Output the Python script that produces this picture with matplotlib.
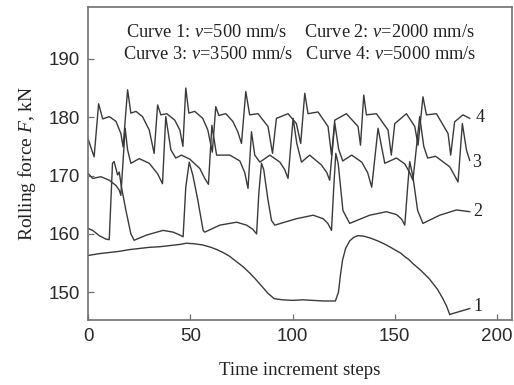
import numpy as np
import matplotlib
matplotlib.use('Agg')
import matplotlib.pyplot as plt

# values (time step, rolling force in kN)
steps_1 = [0, 5, 10, 15, 20, 25, 30, 35, 40, 45, 48, 52, 56, 60, 63, 66, 69, 72, 76, 79, 82, 85, 88, 91,
           95, 100, 105, 110, 115, 121, 122.5, 123.5, 124.5, 126, 128, 130, 132, 135, 138, 141, 143,
           146, 148, 151, 153, 155, 157, 159, 161, 163, 165, 167, 169, 171, 173.5, 175.5, 177]
force_1 = [156.3, 156.6, 156.8, 157.0, 157.3, 157.5, 157.7, 157.8, 158.0, 158.2, 158.4, 158.3, 158.1,
           157.7, 157.3, 156.8, 156.2, 155.4, 154.3, 153.3, 152.2, 151.0, 149.8, 148.9, 148.7, 148.6,
           148.7, 148.6, 148.5, 148.5, 150.0, 153.0, 155.5, 157.5, 158.8, 159.4, 159.7, 159.6, 159.3,
           158.9, 158.6, 158.1, 157.7, 157.1, 156.7, 156.1, 155.6, 154.9, 154.3, 153.7, 153.0, 152.3,
           151.4, 150.5, 149.0, 147.6, 146.2]

steps_2 = [0, 2.1, 5.3, 8.6, 10.2, 11.8, 12.6, 14.3, 15.1, 16.2, 18.4, 20.8, 22.4, 28.5, 36.6, 41.5,
           44.8, 46.4, 47.7, 49.4, 51.2, 53.6, 56.2, 57.0, 64.4, 72.6, 77.5, 80.5, 82.4, 83.5, 84.8,
           85.9, 87.9, 89.7, 91.3, 101.9, 110.1, 115.0, 117.3, 119.1, 120.2, 121.2, 122.4, 124.7,
           128.0, 137.8, 146.0, 151.0, 153.5, 155.0, 156.4, 157.4, 158.9, 161.3, 163.9, 172.1,
           180.3, 186.8]
force_2 = [160.9, 160.6, 159.7, 159.1, 159.0, 172.1, 172.4, 170.1, 170.6, 168.0, 164.0, 160.0, 158.9,
           159.8, 160.6, 160.3, 159.8, 159.5, 168.0, 172.3, 170.0, 165.8, 160.6, 160.3, 161.5, 162.0,
           161.5, 160.8, 160.0, 167.0, 172.1, 171.0, 166.0, 162.3, 161.5, 162.6, 163.2, 162.6, 161.8,
           160.6, 168.0, 173.8, 172.0, 164.0, 161.8, 163.2, 163.8, 163.3, 162.5, 161.5, 168.0, 172.4,
           170.0, 164.0, 161.8, 163.2, 164.1, 163.8]

steps_3 = [0, 2.1, 6.1, 10.2, 13.5, 15.1, 15.9, 18.0, 19.2, 20.8, 24.9, 29.8, 33.9, 36.3, 37.9, 40.4,
           42.8, 45.6, 49.7, 54.6, 57.0, 58.8, 60.5, 62.8, 69.3, 74.2, 76.6, 78.2, 79.9, 81.5, 84.0,
           88.9, 93.8, 96.2, 97.8, 100.3, 102.1, 104.4, 108.4, 114.2, 116.8, 118.2, 120.7, 122.6,
           124.6, 129.0, 133.9, 136.8, 138.8, 141.9, 145.2, 150.9, 155.0, 157.4, 159.0, 162.3, 164.3,
           166.2, 170.1, 177.0, 179.4, 181.1, 183.2, 185.2, 186.8]
force_3 = [170.3, 169.5, 169.8, 169.2, 168.3, 167.5, 166.6, 178.1, 174.4, 172.1, 172.9, 172.1, 170.3,
           168.6, 180.1, 174.4, 173.0, 173.5, 172.8, 171.2, 169.5, 168.5, 178.6, 173.5, 173.5, 172.5,
           170.5, 167.8, 177.5, 173.5, 172.3, 173.5, 172.3, 171.0, 169.5, 179.8, 175.5, 172.3, 173.5,
           171.8, 170.5, 169.2, 179.0, 174.5, 172.5, 173.5, 172.3, 170.5, 168.0, 178.1, 172.1, 173.0,
           172.0, 170.5, 169.2, 180.1, 175.0, 173.0, 173.3, 171.5, 170.0, 168.9, 178.9, 174.4, 172.6]

steps_4 = [0, 2.8, 5.0, 7.0, 10.2, 13.5, 15.9, 17.0, 19.2, 20.8, 23.3, 26.5, 29.8, 32.2, 33.9, 35.5,
           38.4, 42.3, 44.8, 46.3, 47.7, 49.2, 52.1, 56.0, 58.5, 60.7, 62.4, 63.9, 67.3, 70.7, 73.2,
           75.0, 77.1, 79.0, 83.1, 88.0, 90.2, 92.1, 97.8, 101.9, 104.0, 106.0, 107.6, 112.5, 117.4,
           119.1, 120.7, 126.4, 132.1, 133.3, 134.9, 136.2, 141.1, 146.8, 148.4, 150.1, 155.8, 159.9,
           161.5, 163.9, 165.6, 170.5, 176.2, 177.5, 179.4, 183.5, 186.8]
force_4 = [176.1, 173.2, 182.3, 179.7, 180.1, 179.3, 177.2, 174.9, 184.7, 180.7, 181.0, 180.1, 177.8,
           173.8, 182.1, 180.4, 180.6, 179.5, 177.8, 175.0, 185.0, 180.7, 181.0, 179.8, 177.8, 174.0,
           181.8, 180.3, 180.6, 179.3, 177.5, 175.5, 184.4, 180.4, 180.6, 178.4, 173.8, 179.8, 180.6,
           178.9, 175.5, 184.1, 180.6, 180.9, 178.4, 173.5, 179.5, 180.6, 178.4, 175.2, 183.8, 180.4,
           180.6, 177.8, 173.5, 178.9, 180.6, 178.4, 175.2, 183.5, 180.4, 180.6, 177.2, 173.5, 179.2,
           180.4, 179.8]

curve_labels = ['1', '2', '3', '4']
label_x = [190.7, 190.7, 190.2, 191.9]
label_y = [147.5, 163.8, 172.2, 179.9]

legend_line_1 = r'Curve 1: $\it{v}$=500 mm/s    Curve 2: $\it{v}$=2000 mm/s'
legend_line_2 = r'Curve 3: $\it{v}$=3500 mm/s   Curve 4: $\it{v}$=5000 mm/s'

plt.rcParams['mathtext.fontset'] = 'custom'
plt.rcParams['mathtext.it'] = 'Liberation Serif:italic'
plt.rcParams['mathtext.rm'] = 'Liberation Serif'

line_col = '#3a3a3a'
frame_col = '#707070'

fig = plt.figure(figsize=(5.14, 3.85), dpi=100)
ax = fig.add_axes([0.172, 0.169, 0.824, 0.813])

for sx, fy in [(steps_1, force_1), (steps_2, force_2), (steps_3, force_3), (steps_4, force_4)]:
    ax.plot(sx, fy, color=line_col, lw=1.0)

# short leader from the end of curve 1 to its label
ax.plot([177, 186.8], [146.2, 147.2], color=line_col, lw=1.0)

for lab, lx, ly in zip(curve_labels, label_x, label_y):
    ax.text(lx, ly, lab, family='Liberation Serif', fontsize=13, color='#222222',
            ha='center', va='center')

ax.text(103.6, 194.6, legend_line_1, family='Liberation Serif', fontsize=13.2,
        color='#222222', ha='center', va='center')
ax.text(103.6, 190.7, legend_line_2, family='Liberation Serif', fontsize=13.2,
        color='#222222', ha='center', va='center')

ax.set_xlim(0, 207.5)
ax.set_ylim(145.25, 198.9)
ax.set_xticks([0, 50, 100, 150, 200])
ax.set_yticks([150, 160, 170, 180, 190])
ax.tick_params(direction='in', length=4, width=0.9, color=frame_col, labelsize=13.5,
               labelcolor='#2a2a2a', top=False, right=False, pad=6)
for lbl in ax.get_xticklabels() + ax.get_yticklabels():
    lbl.set_family('Liberation Sans')
for sp in ax.spines.values():
    sp.set_color(frame_col)
    sp.set_linewidth(1.2)

ax.set_xlabel('Time increment steps', family='Liberation Serif', fontsize=13.5,
              color='#222222', labelpad=12)
ax.set_ylabel(r'Rolling force $\it{F}$, kN', family='Liberation Serif', fontsize=14,
              color='#222222', labelpad=8)

fig.savefig('out.png', dpi=100)
